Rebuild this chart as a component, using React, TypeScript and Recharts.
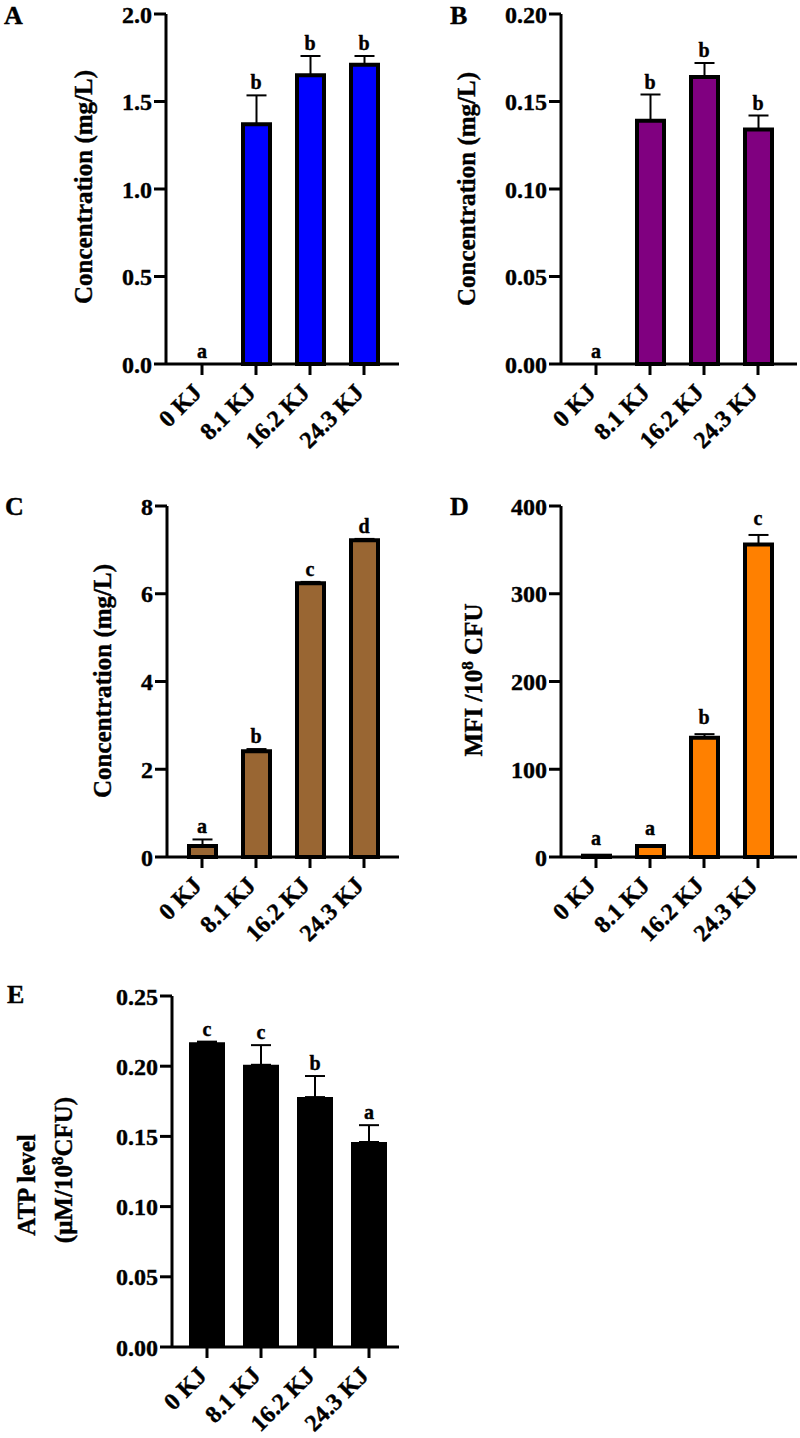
import { Bar, ComposedChart, ErrorBar, LabelList, Line, XAxis, YAxis } from "recharts";

const CATEGORIES = ["0 KJ", "8.1 KJ", "16.2 KJ", "24.3 KJ"];

// A - concentration (mg/L)
const A_VALUES = [0, 1.37, 1.65, 1.71];
const A_ERRORS = [0, 0.165, 0.11, 0.05];
const A_LETTERS = ["a", "b", "b", "b"];
const A_TICKS = [0, 0.5, 1.0, 1.5, 2.0];

// B - concentration (mg/L)
const B_VALUES = [0, 0.139, 0.164, 0.134];
const B_ERRORS = [0, 0.015, 0.008, 0.008];
const B_LETTERS = ["a", "b", "b", "b"];
const B_TICKS = [0, 0.05, 0.1, 0.15, 0.2];

// C - concentration (mg/L)
const C_VALUES = [0.25, 2.41, 6.24, 7.22];
const C_ERRORS = [0.15, 0.05, 0.03, 0.03];
const C_LETTERS = ["a", "b", "c", "d"];
const C_TICKS = [0, 2, 4, 6, 8];

// D - MFI / 10^8 CFU
const D_VALUES = [1.5, 12.5, 136, 356];
const D_ERRORS = [0.3, 1, 4, 11];
const D_LETTERS = ["a", "a", "b", "c"];
const D_TICKS = [0, 100, 200, 300, 400];

// E - ATP level
const E_VALUES = [0.217, 0.201, 0.178, 0.146];
const E_ERRORS = [0.0005, 0.014, 0.015, 0.012];
const E_LETTERS = ["c", "c", "b", "a"];
const E_TICKS = [0, 0.05, 0.1, 0.15, 0.2, 0.25];

const FONT = "Liberation Serif, Tinos, Times New Roman, Times, DejaVu Serif, serif";
// thin outline on the glyphs so the bold serif reads as heavy as the print
const HEAVY = { stroke: "#000", strokeWidth: 0.4 };

type PanelProps = {
  left: number;
  top: number;
  width: number;
  height: number;
  plot: { left: number; top: number; right: number; bottom: number };
  pad: { left: number; right: number };
  values: number[];
  errors: number[];
  letters: string[];
  ticks: number[];
  digits: number;
  fill: string;
  outlined: boolean;
  barSize: number;
  gap: number;
};

function SlantTick({ x, y, payload }: any) {
  return (
    <g transform={`translate(${x + 1},${y + 17}) rotate(-45)`}>
      <text
        textAnchor="end"
        fontFamily={FONT}
        fontWeight="bold"
        fontSize={24}
        fill="#000"
        {...HEAVY}
      >
        {payload.value}
      </text>
    </g>
  );
}

function Panel(p: PanelProps) {
  const data = CATEGORIES.map((name, i) => ({
    name,
    value: p.values[i],
    err: [0, p.errors[i]],
    top: p.values[i] + p.errors[i],
    letter: p.letters[i],
  }));
  const max = p.ticks[p.ticks.length - 1];

  return (
    <div style={{ position: "absolute", left: p.left, top: p.top }}>
      <ComposedChart
        width={p.width}
        height={p.height}
        data={data}
        margin={{ top: p.plot.top, right: p.width - p.plot.right, bottom: 0, left: 0 }}
      >
        <XAxis
          dataKey="name"
          interval={0}
          height={p.height - p.plot.bottom}
          padding={p.pad}
          tick={<SlantTick />}
          tickSize={11}
          tickLine={{ stroke: "#000", strokeWidth: 3 }}
          axisLine={{ stroke: "#000", strokeWidth: 3 }}
        />
        <XAxis
          xAxisId="top"
          orientation="top"
          dataKey="name"
          height={0}
          tick={false}
          tickLine={false}
          axisLine={{ stroke: "#000", strokeWidth: 2 }}
        />
        <YAxis
          domain={[0, max]}
          ticks={p.ticks}
          interval={0}
          width={p.plot.left}
          tickSize={12}
          tickMargin={2}
          tickFormatter={(v: number) => v.toFixed(p.digits)}
          tick={{ fontFamily: FONT, fontWeight: "bold", fontSize: 24, fill: "#000", ...HEAVY }}
          tickLine={{ stroke: "#000", strokeWidth: 3 }}
          axisLine={{ stroke: "#000", strokeWidth: 3 }}
        />
        <YAxis
          yAxisId="right"
          orientation="right"
          width={0}
          tick={false}
          tickLine={false}
          axisLine={{ stroke: "#000", strokeWidth: 2 }}
        />
        <Bar
          dataKey="value"
          fill={p.fill}
          stroke={p.outlined ? "#000" : "none"}
          strokeWidth={p.outlined ? 4 : 0}
          barSize={p.barSize}
          isAnimationActive={false}
        >
          <ErrorBar dataKey="err" width={10} stroke="#000" strokeWidth={2} direction="y" />
        </Bar>
        {/* invisible series at mean + error, only used to place the letters */}
        <Line
          dataKey="top"
          stroke="none"
          dot={false}
          activeDot={false}
          isAnimationActive={false}
        >
          <LabelList
            dataKey="letter"
            position="top"
            offset={p.gap}
            fontFamily={FONT}
            fontWeight="bold"
            fontSize={20}
            fill="#000"
            {...HEAVY}
          />
        </Line>
      </ComposedChart>
    </div>
  );
}

function Titles() {
  const t = { fontFamily: FONT, fontWeight: "bold" as const, fill: "#000", ...HEAVY };
  return (
    <svg
      width={800}
      height={1438}
      style={{ position: "absolute", left: 0, top: 0, pointerEvents: "none" }}
    >
      <text x={4} y={24} fontSize={26} {...t}>A</text>
      <text x={450} y={24} fontSize={26} {...t}>B</text>
      <text x={5} y={515} fontSize={26} {...t}>C</text>
      <text x={450} y={515} fontSize={26} {...t}>D</text>
      <text x={7} y={1003} fontSize={26} {...t}>E</text>

      <text transform="translate(92,187) rotate(-90)" textAnchor="middle" fontSize={25} {...t}>
        Concentration (mg/L)
      </text>
      <text transform="translate(475,189) rotate(-90)" textAnchor="middle" fontSize={25} {...t}>
        Concentration (mg/L)
      </text>
      <text transform="translate(111,681) rotate(-90)" textAnchor="middle" fontSize={25} {...t}>
        Concentration (mg/L)
      </text>
      <text transform="translate(482,680) rotate(-90)" textAnchor="middle" fontSize={25} {...t}>
        MFI /10<tspan dy={-9} fontSize={17}>8</tspan>
        <tspan dy={9}> CFU</tspan>
      </text>
      <text transform="translate(35,1185) rotate(-90)" textAnchor="middle" fontSize={25} {...t}>
        ATP level
      </text>
      <text transform="translate(72,1170) rotate(-90)" textAnchor="middle" fontSize={25} {...t}>
        (μM/10<tspan dy={-9} fontSize={17}>8</tspan>
        <tspan dy={9}>CFU)</tspan>
      </text>
    </svg>
  );
}

export default function App() {
  return (
    <div
      style={{
        position: "absolute",
        left: 0,
        top: 0,
        width: 800,
        height: 1438,
        background: "#fff",
        overflow: "hidden",
      }}
    >
      <Panel
        left={0}
        top={0}
        width={400}
        height={480}
        plot={{ left: 166, top: 14, right: 399, bottom: 364 }}
        pad={{ left: 9, right: 8 }}
        values={A_VALUES}
        errors={A_ERRORS}
        letters={A_LETTERS}
        ticks={A_TICKS}
        digits={1}
        fill="#0000FF"
        outlined
        barSize={27}
        gap={6}
      />
      <Panel
        left={400}
        top={0}
        width={400}
        height={480}
        plot={{ left: 161, top: 14, right: 397, bottom: 364 }}
        pad={{ left: 8, right: 12 }}
        values={B_VALUES}
        errors={B_ERRORS}
        letters={B_LETTERS}
        ticks={B_TICKS}
        digits={2}
        fill="#800080"
        outlined
        barSize={27}
        gap={6}
      />
      <Panel
        left={0}
        top={480}
        width={400}
        height={480}
        plot={{ left: 167, top: 26, right: 399, bottom: 377 }}
        pad={{ left: 8, right: 8 }}
        values={C_VALUES}
        errors={C_ERRORS}
        letters={C_LETTERS}
        ticks={C_TICKS}
        digits={0}
        fill="#996633"
        outlined
        barSize={27}
        gap={6}
      />
      <Panel
        left={400}
        top={480}
        width={400}
        height={480}
        plot={{ left: 161, top: 26, right: 397, bottom: 377 }}
        pad={{ left: 8, right: 12 }}
        values={D_VALUES}
        errors={D_ERRORS}
        letters={D_LETTERS}
        ticks={D_TICKS}
        digits={0}
        fill="#FF8000"
        outlined
        barSize={27}
        gap={10}
      />
      <Panel
        left={0}
        top={960}
        width={400}
        height={478}
        plot={{ left: 172, top: 36, right: 399, bottom: 387 }}
        pad={{ left: 8, right: 3 }}
        values={E_VALUES}
        errors={E_ERRORS}
        letters={E_LETTERS}
        ticks={E_TICKS}
        digits={2}
        fill="#000000"
        outlined={false}
        barSize={36}
        gap={6}
      />
      <Titles />
    </div>
  );
}
